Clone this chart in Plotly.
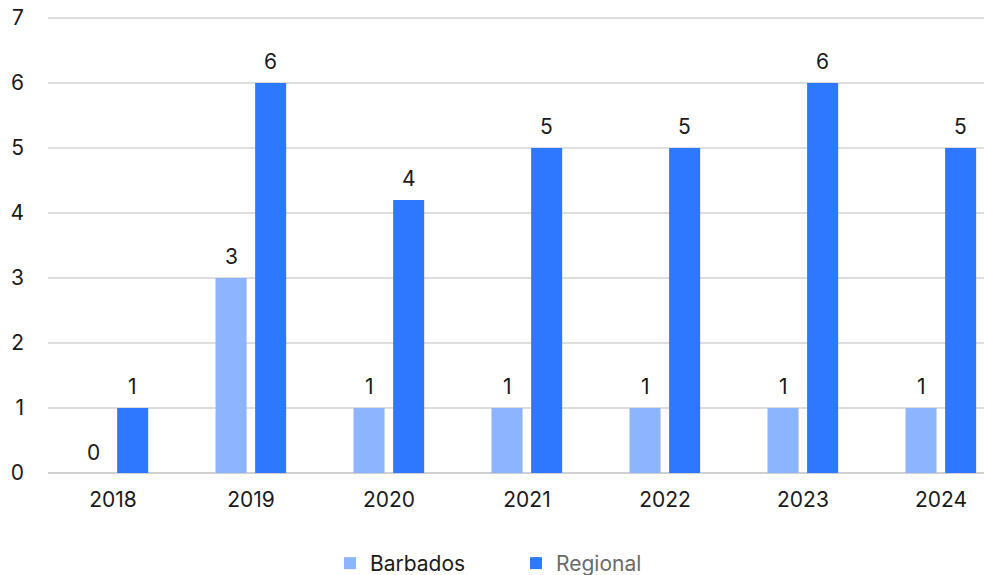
import plotly.graph_objects as go

# Chart data
years = ["2018", "2019", "2020", "2021", "2022", "2023", "2024"]
barbados = [0, 3, 1, 1, 1, 1, 1]
regional = [1, 6, 4.2, 5, 5, 6, 5]

font_family = "Inter, Roboto, sans-serif"
bar_width = 0.225
offset_barbados = -0.257
offset_regional = 0.03
px_per_cat = 138

# Create the bar traces
bar_barbados = go.Bar(x=years, y=barbados, name="Barbados",
                      marker=dict(color="#8DB5FF", line=dict(width=0)),
                      width=bar_width, offset=offset_barbados)
bar_regional = go.Bar(x=years, y=regional, name="<span style='color:#6b6b6b'>Regional</span>",
                      marker=dict(color="#2E78FF", line=dict(width=0)),
                      width=bar_width, offset=offset_regional)

# Create the figure
fig = go.Figure()
fig.add_trace(bar_barbados)
fig.add_trace(bar_regional)

# Value labels above the bars (x given as category index)
for vals, off in [(barbados, offset_barbados), (regional, offset_regional)]:
    shift = (off + bar_width / 2) * px_per_cat
    for i, v in enumerate(vals):
        fig.add_annotation(x=i, y=v, text=f"{v:.0f}", showarrow=False,
                           xshift=shift, yshift=21,
                           font=dict(size=21, color="#1a1a1a", family=font_family))

fig.update_layout(
    width=984,
    height=575,
    margin=dict(l=48, r=0, t=16, b=102, autoexpand=False),
    plot_bgcolor="white",
    paper_bgcolor="white",
    font=dict(family=font_family, size=21, color="#1a1a1a"),
    barmode="group",
    showlegend=True,
    legend=dict(orientation="h", x=0.5, xanchor="center", y=-0.198, yanchor="middle",
                font=dict(size=21, color="#1a1a1a"),
                entrywidth=141, itemwidth=30),
)

fig.update_xaxes(type="category", range=[-0.471, 6.312], showgrid=False,
                 showline=False, zeroline=False, ticks="", automargin=False,
                 tickfont=dict(size=21, color="#1a1a1a"), ticklabelstandoff=12)
fig.update_yaxes(range=[0, 7.03], dtick=1, showgrid=True, gridcolor="#dedede", gridwidth=1.5,
                 zeroline=True, zerolinecolor="#d0d0d0", zerolinewidth=1.5,
                 showline=False, ticks="", automargin=False, ticklabeloverflow="allow",
                 tickfont=dict(size=21, color="#1a1a1a"), ticklabelstandoff=23)

# Drop the default page margin so the figure sits at the window corner
fig.write_html("out.html", config={"displayModeBar": False},
               post_script="document.body.style.margin = '0';")
